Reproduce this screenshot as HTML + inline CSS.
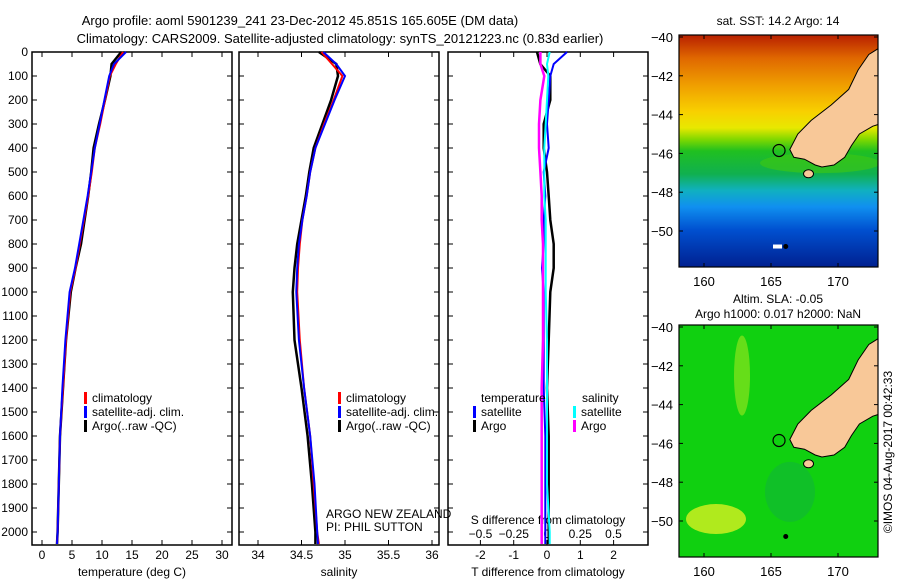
<!DOCTYPE html>
<html><head><meta charset="utf-8"><style>
body{margin:0;background:#fff;}
svg{display:block;font-family:"Liberation Sans",sans-serif;}
text{font-size:12px;fill:#000;}
</style></head><body>
<svg id="chart" width="900" height="580" viewBox="0 0 900 580">
<text x="300" y="25" text-anchor="middle" style="font-size:13px">Argo profile: aoml 5901239_241 23-Dec-2012 45.851S 165.605E (DM data)</text>
<text x="340" y="43" text-anchor="middle" style="font-size:13px">Climatology: CARS2009. Satellite-adjusted climatology: synTS_20121223.nc (0.83d earlier)</text>
<g id="g"></g>
</svg>
<script>
const depths=[0,50,100,200,300,400,500,600,700,800,900,1000,1200,1400,1600,1800,2000,2050];
const tempClim=[13.5,12.3,11.3,10.5,9.7,8.8,8.3,7.7,7.0,6.3,5.6,4.7,4.0,3.5,3.0,2.8,2.6,2.5];
const tempSat=[14.0,12.0,11.2,10.4,9.6,8.8,8.2,7.6,6.9,6.2,5.5,4.6,3.9,3.4,3.0,2.8,2.6,2.5];
const tempArgo=[13.2,11.6,11.4,10.5,9.5,8.6,8.2,7.7,7.1,6.5,5.6,4.8,4.0,3.5,3.0,2.8,2.6,2.5];
const salClim=[34.73,34.85,34.97,34.87,34.76,34.66,34.6,34.56,34.51,34.48,34.46,34.45,34.48,34.53,34.6,34.64,34.68,34.7];
const salSat=[34.75,34.9,35.0,34.88,34.77,34.66,34.6,34.56,34.51,34.47,34.45,34.44,34.47,34.53,34.6,34.65,34.68,34.69];
const salArgo=[34.7,34.9,34.92,34.84,34.74,34.64,34.59,34.55,34.5,34.45,34.42,34.4,34.42,34.5,34.57,34.62,34.66,34.66];
const tDiffSat=[0.6,0.2,0.1,0.05,0,0.05,-0.1,-0.05,-0.1,-0.1,-0.15,-0.1,-0.1,-0.1,-0.05,-0.05,-0.05,-0.05];
const tDiffArgo=[-0.3,-0.2,0.1,0.1,-0.1,-0.1,0,0.05,0.1,0.2,0.2,0.1,0.05,0,0.05,0.05,0.05,0.05];
const sDiffSat=[0.02,0.0,0.01,0.0,-0.01,-0.02,-0.02,-0.02,-0.01,-0.01,-0.01,-0.01,0,0,0,0,0.02,0.02];
const sDiffArgo=[-0.05,-0.05,-0.02,-0.05,-0.06,-0.06,-0.05,-0.04,-0.04,-0.03,-0.03,-0.03,-0.03,-0.04,-0.04,-0.04,-0.04,-0.04];
const depthTicks=[0,100,200,300,400,500,600,700,800,900,1000,1100,1200,1300,1400,1500,1600,1700,1800,1900,2000];
const tempTicks=[0,5,10,15,20,25,30];
const salTicks=[34,34.5,35,35.5,36];
const tdTicks=[-2,-1,0,1,2];
const sdTicks=[-0.5,-0.25,0,0.25,0.5];
const latTicks=[-40,-42,-44,-46,-48,-50];
const lonTicks=[160,165,170];

const NS='http://www.w3.org/2000/svg';
const G=document.getElementById('g');
function el(t,a,p){const e=document.createElementNS(NS,t);for(const k in a)e.setAttribute(k,a[k]);(p||G).appendChild(e);return e;}
const yD=d=>52+d*0.24;
const xT=v=>42+v*6;
const xS=v=>258+(v-34)*87;
const xTD=v=>547+v*33.3;
const xSD=v=>547+v*133;

function frame(x0,name){const r=el('rect',{x:x0,y:52,width:200,height:493,fill:'none',stroke:'#000','stroke-width':1.5});

}
frame(32,'temperature-panel');frame(239,'salinity-panel');frame(448,'difference-panel');

depthTicks.forEach(d=>{const y=yD(d);
[32,239,448].forEach(x0=>{el('line',{x1:x0,y1:y,x2:x0+5,y2:y,stroke:'#000'});el('line',{x1:x0+200,y1:y,x2:x0+195,y2:y,stroke:'#000'});});
const t=el('text',{x:28,y:y+4,'text-anchor':'end'});t.textContent=d;

});

function xticks(ticks,fx,y,lab,name){ticks.forEach(v=>{const x=fx(v);el('line',{x1:x,y1:545,x2:x,y2:540,stroke:'#000'});el('line',{x1:x,y1:52,x2:x,y2:57,stroke:'#000'});
const t=el('text',{x:x,y:y,'text-anchor':'middle'});t.textContent=lab?lab(v):v;

});}
xticks(tempTicks,xT,559,null,'temperature-tick-label');
xticks(salTicks,xS,559,null,'salinity-tick-label');
xticks(tdTicks,xTD,559,null,'t-diff-tick-label');
sdTicks.forEach(v=>{const t=el('text',{x:xSD(v),y:538,'text-anchor':'middle'});t.textContent=(v===0?'0':String(v).replace('-','\u2212'));

});

function txt(x,y,s,name,anchor){const t=el('text',{x:x,y:y,'text-anchor':anchor||'start'});t.textContent=s;

return t;}
txt(132,576,'temperature (deg C)','x-axis-title-temperature','middle');
txt(339,576,'salinity','x-axis-title-salinity','middle');
txt(548,576,'T difference from climatology','x-axis-title-t-diff','middle');
txt(548,524,'S difference from climatology','s-diff-axis-title','middle');
txt(326,518,'ARGO NEW ZEALAND','pi-institution');
txt(326,531,'PI: PHIL SUTTON','pi-name');

function line(xs,fx,col,w,name){const pts=depths.map((d,i)=>fx(xs[i]).toFixed(1)+','+yD(d).toFixed(1)).join(' ');
const p=el('polyline',{points:pts,fill:'none',stroke:col,'stroke-width':w});

}
line(tempArgo,xT,'#000',2.5,'temp-argo-line');line(tempClim,xT,'#f00',2,'temp-clim-line');line(tempSat,xT,'#00f',2,'temp-sat-line');
line(salArgo,xS,'#000',2.5,'sal-argo-line');line(salClim,xS,'#f00',2,'sal-clim-line');line(salSat,xS,'#00f',2,'sal-sat-line');
line(tDiffArgo,xTD,'#000',2.5,'tdiff-argo-line');line(tDiffSat,xTD,'#00f',2,'tdiff-sat-line');
line(sDiffArgo,xSD,'#f0f',2.5,'sdiff-argo-line');line(sDiffSat,xSD,'#0ff',2,'sdiff-sat-line');

function leg(x,y,col,s,name){el('rect',{x:x,y:y-10,width:3,height:12,fill:col});const t=txt(x+8,y,s,name);}
[[84,'temp'],[338,'sal']].forEach(([x,p])=>{leg(x,402,'#f00','climatology',p+'-legend-climatology');leg(x,416,'#00f','satellite-adj. clim.',p+'-legend-satellite');leg(x,430,'#000','Argo(..raw -QC)',p+'-legend-argo');});
txt(481,402,'temperature','diff-legend-temperature-header');txt(582,402,'salinity','diff-legend-salinity-header');
leg(473,416,'#00f','satellite','diff-legend-t-satellite');leg(473,430,'#000','Argo','diff-legend-t-argo');
leg(573,416,'#0ff','satellite','diff-legend-s-satellite');leg(573,430,'#f0f','Argo','diff-legend-s-argo');

// maps
const xL=v=>704+(v-160)*13.4;
const yL=(v,off)=>off+37+(-40-v)*19.4;
const land=[[166.4,-45.8],[167,-45],[168,-44.3],[169.5,-43.5],[170.8,-42.7],[171.5,-41.7],[172.3,-40.9],[173,-40.6],[173.5,-40.5],[173.5,-44.4],[172.6,-44.6],[171.6,-45],[171,-45.6],[170.5,-46.2],[169.7,-46.6],[168.8,-46.7],[168.3,-46.6],[167.5,-46.3],[166.7,-46.2]];
const defs=el('defs',{});
const g1=el('linearGradient',{id:'sst',x1:0,y1:0,x2:0,y2:1},defs);
[[0,'#b82000'],[0.1,'#e06800'],[0.22,'#f0a000'],[0.33,'#f8d000'],[0.4,'#e8e800'],[0.45,'#80d800'],[0.5,'#20c020'],[0.6,'#10b050'],[0.67,'#10b0c0'],[0.74,'#1090f0'],[0.84,'#0050d0'],[1,'#002090']].forEach(([o,c])=>el('stop',{offset:o,'stop-color':c},g1));
[0,290].forEach(off=>{const cp=el('clipPath',{id:'clip'+off},defs);el('rect',{x:679,y:yL(-40,off)-2,width:199,height:232},cp);});
function map(off,fill,name){
const ys=yL(-40,off)-2;
const r=el('rect',{x:679,y:ys,width:199,height:232,fill:fill});


return ys;}
map(0,'url(#sst)','sst-map');
map(290,'#10d010','sla-map');
el('ellipse',{cx:716,cy:yL(-49.9,290),rx:30,ry:15,fill:'#d8f020',opacity:0.8});
el('ellipse',{cx:742,cy:yL(-42.5,290),rx:8,ry:40,fill:'#a0e820',opacity:0.6});
el('ellipse',{cx:790,cy:yL(-48.5,290),rx:25,ry:30,fill:'#10b040',opacity:0.5});
el('ellipse',{cx:820,cy:yL(-46.5,0),rx:60,ry:10,fill:'#40c810',opacity:0.6,'clip-path':'url(#clip0)'});
[0,290].forEach(off=>{
const gg=el('g',{'clip-path':'url(#clip'+off+')'});
const poly=el('polygon',{points:land.map(p=>xL(p[0]).toFixed(1)+','+yL(p[1],off).toFixed(1)).join(' '),fill:'#f8c898',stroke:'#000','stroke-width':1},gg);


el('ellipse',{cx:xL(167.8),cy:yL(-47.05,off),rx:5,ry:4,fill:'#f8c898',stroke:'#000'});
el('circle',{cx:xL(166.1),cy:yL(-50.8,off),r:2.5,fill:'#000'});
const c=el('circle',{cx:xL(165.6),cy:yL(-45.85,off),r:6,fill:'none',stroke:'#000','stroke-width':1.2});


el('rect',{x:679,y:yL(-40,off)-2,width:199,height:232,fill:'none',stroke:'#000','stroke-width':1.2});
latTicks.forEach(v=>{const y=yL(v,off);el('line',{x1:679,y1:y,x2:683,y2:y,stroke:'#000'});el('line',{x1:878,y1:y,x2:874,y2:y,stroke:'#000'});
const t=el('text',{x:673,y:y+5,'text-anchor':'end',style:'font-size:13px'});t.textContent=String(v).replace('-','\u2212');

});
lonTicks.forEach(v=>{const x=xL(v);el('line',{x1:x,y1:yL(-40,off)-2,x2:x,y2:yL(-40,off)+2,stroke:'#000'});el('line',{x1:x,y1:yL(-40,off)+230,x2:x,y2:yL(-40,off)+226,stroke:'#000'});
const t=el('text',{x:x,y:yL(-40,off)+249,'text-anchor':'middle',style:'font-size:13px'});t.textContent=v;

});
});
el('rect',{x:773,y:yL(-50.8,0)-2,width:9,height:4,fill:'#fff'});
txt(778,25,'sat. SST: 14.2 Argo: 14','sst-map-title','middle');
txt(778,303,'Altim. SLA: -0.05','sla-map-title','middle');
txt(778,318,'Argo h1000: 0.017 h2000: NaN','sla-map-subtitle','middle');
const cr=txt(0,0,'\u00A9IMOS 04-Aug-2017 00:42:33','timestamp','middle');
cr.setAttribute('transform','translate(892,452) rotate(-90)');
</script>
</body></html>
